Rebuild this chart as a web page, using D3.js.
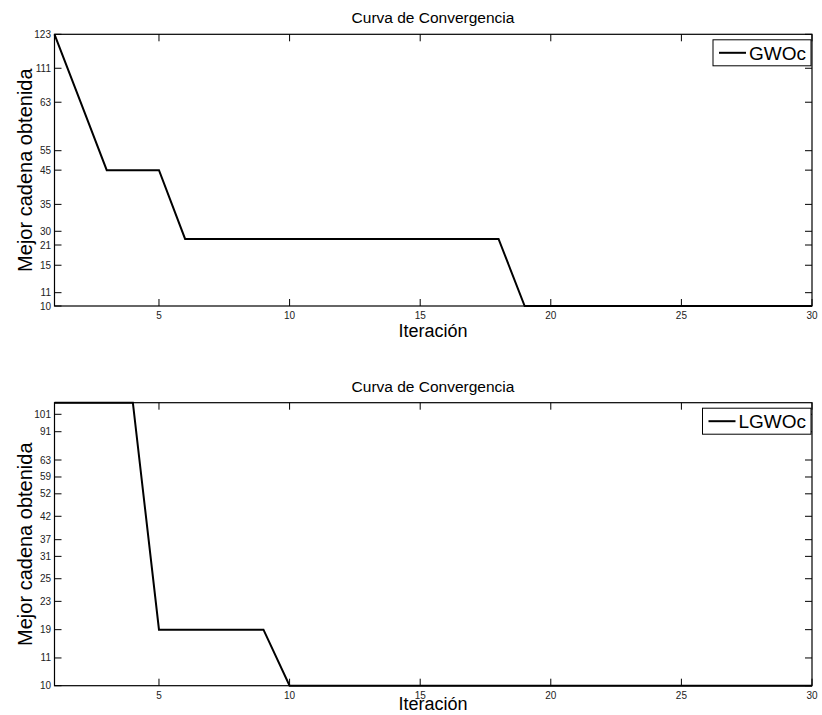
<!DOCTYPE html>
<html>
<head>
<meta charset="utf-8">
<script src="https://cdn.jsdelivr.net/npm/d3@7"></script>
<style>
  body { margin: 0; background: #fff; }
  text { font-family: "Liberation Sans", Arial, sans-serif; }
</style>
</head>
<body>
<div id="chart"></div>
<script>
// iterations 1..30
var iterations = d3.range(1, 31);

// GWOc best value per iteration
var gwoc = [123, 63, 45, 45, 45, 25, 25, 25, 25, 25, 25, 25, 25, 25, 25, 25, 25, 25,
            10, 10, 10, 10, 10, 10, 10, 10, 10, 10, 10, 10];
// LGWOc best value per iteration
var lgwoc = [104, 104, 104, 104, 19, 19, 19, 19, 19, 10, 10, 10, 10, 10, 10, 10, 10, 10,
             10, 10, 10, 10, 10, 10, 10, 10, 10, 10, 10, 10];

// the y axes are not linear: tick labels and where they sit (0 = bottom, 1 = top)
var yTicksTop = [10, 11, 15, 21, 30, 35, 45, 55, 63, 111, 123];
var yTickFracTop = [0, 0.049, 0.150, 0.2245, 0.275, 0.374, 0.5, 0.5716, 0.75, 0.875, 1];
var yTicksBottom = [10, 11, 19, 23, 25, 31, 37, 42, 52, 59, 63, 91, 101];
var yTickFracBottom = [0, 0.098, 0.198, 0.298, 0.378, 0.457, 0.516, 0.5986, 0.678, 0.7375, 0.7975, 0.8975, 0.959];
var yTopBottom = 104; // value at top edge of second axis

var xTicks = [5, 10, 15, 20, 25, 30];

var W = 822, H = 715;
var svg = d3.select("#chart").append("svg").attr("width", W).attr("height", H);

function panel(cfg) {
  var x = d3.scaleLinear().domain([1, 30]).range([54.5, 812]);
  var y = d3.scaleLinear()
    .domain(cfg.ticks)
    .range(cfg.frac.map(function(f) { return cfg.y1 - f * (cfg.y1 - cfg.y0); }));

  var g = svg.append("g");

  // title
  g.append("text").attr("x", 433).attr("y", cfg.y0 - 11)
    .attr("text-anchor", "middle").style("font-size", "15.5px").text("Curva de Convergencia");

  // line
  var line = d3.line().x(function(d, i) { return x(iterations[i]); }).y(function(d) { return y(d); });
  g.append("path").datum(cfg.data).attr("d", line)
    .attr("fill", "none").attr("stroke", "#000").attr("stroke-width", 2);

  // box
  g.append("rect").attr("x", 54.5).attr("y", cfg.y0).attr("width", 812 - 54.5).attr("height", cfg.y1 - cfg.y0)
    .attr("fill", "none").attr("stroke", "#000").attr("stroke-width", 1.2);

  // x ticks (inward, mirrored on top)
  xTicks.forEach(function(t) {
    g.append("line").attr("x1", x(t)).attr("x2", x(t)).attr("y1", cfg.y1).attr("y2", cfg.y1 - 7)
      .attr("stroke", "#000");
    g.append("line").attr("x1", x(t)).attr("x2", x(t)).attr("y1", cfg.y0).attr("y2", cfg.y0 + 7)
      .attr("stroke", "#000");
    g.append("text").attr("x", x(t)).attr("y", cfg.y1 + 13).attr("text-anchor", "middle")
      .style("font-size", "10px").attr("fill", "#222").text(t);
  });

  // y ticks
  cfg.labels.forEach(function(t) {
    var yy = y(t);
    g.append("line").attr("x1", 54.5).attr("x2", 61.5).attr("y1", yy).attr("y2", yy).attr("stroke", "#000");
    g.append("line").attr("x1", 812).attr("x2", 805).attr("y1", yy).attr("y2", yy).attr("stroke", "#000");
    g.append("text").attr("x", 51).attr("y", yy).attr("dy", "0.35em").attr("text-anchor", "end")
      .style("font-size", "10px").attr("fill", "#222").text(t);
  });

  // axis labels
  g.append("text").attr("x", 433).attr("y", cfg.y1 + cfg.xlabOff).attr("text-anchor", "middle")
    .style("font-size", "18px").text("Iteración");
  g.append("text").attr("transform", "translate(32," + ((cfg.y0 + cfg.y1) / 2) + ")rotate(-90)")
    .attr("text-anchor", "middle").style("font-size", "20px").text("Mejor cadena obtenida");

  // legend
  var lg = g.append("g");
  lg.append("rect").attr("x", cfg.legX).attr("y", cfg.y0 + 5.5).attr("width", 811 - cfg.legX).attr("height", 26)
    .attr("fill", "#fff").attr("stroke", "#000").attr("stroke-width", 1);
  lg.append("line").attr("x1", cfg.legX + 6).attr("x2", cfg.legX + 33)
    .attr("y1", cfg.y0 + 18.5).attr("y2", cfg.y0 + 18.5).attr("stroke", "#000").attr("stroke-width", 2);
  lg.append("text").attr("x", cfg.legX + 36).attr("y", cfg.y0 + 18.5).attr("dy", "0.36em")
    .style("font-size", "19px").text(cfg.name);
}

panel({ data: gwoc, name: "GWOc", ticks: yTicksTop, frac: yTickFracTop, labels: yTicksTop,
        y0: 34.3, y1: 306, legX: 713, xlabOff: 31 });
panel({ data: lgwoc, name: "LGWOc", ticks: yTicksBottom.concat([yTopBottom]), frac: yTickFracBottom.concat([1]),
        labels: yTicksBottom, y0: 402.7, y1: 685.7, legX: 702.5, xlabOff: 24 });
</script>
</body>
</html>
